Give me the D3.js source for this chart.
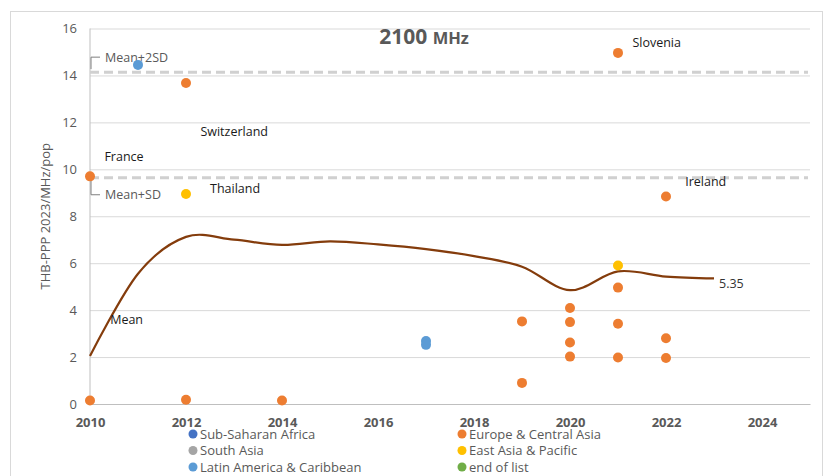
<!DOCTYPE html>
<html>
<head>
<meta charset="utf-8">
<script src="https://cdn.jsdelivr.net/npm/d3@7"></script>
<style>
  body { margin: 0; background: #fff; }
  text { font-family: "Open Sans", "Noto Sans", sans-serif; }
</style>
</head>
<body>
<svg id="chart"></svg>
<script>
// region legend
const regions = ["Sub-Saharan Africa", "Europe & Central Asia", "South Asia", "East Asia & Pacific", "Latin America & Caribbean", "end of list"];
const regionColors = ["#4472C4", "#ED7D31", "#A5A5A5", "#FFC000", "#5B9BD5", "#70AD47"];

// country points: year, value, region
const pointYears  = [2010, 2010, 2011, 2012, 2012, 2012, 2014, 2017, 2017, 2019, 2019, 2020, 2020, 2020, 2020, 2021, 2021, 2021, 2021, 2021, 2022, 2022, 2022];
const pointValues = [9.7, 0.15, 14.45, 13.68, 0.18, 8.95, 0.15, 2.68, 2.52, 3.52, 0.9, 4.09, 3.49, 2.62, 2.02, 14.96, 5.9, 4.96, 3.42, 1.98, 8.84, 2.8, 1.96];
const pointRegion = ["Europe & Central Asia", "Europe & Central Asia", "Latin America & Caribbean", "Europe & Central Asia", "Europe & Central Asia", "East Asia & Pacific", "Europe & Central Asia", "Latin America & Caribbean", "Latin America & Caribbean", "Europe & Central Asia", "Europe & Central Asia", "Europe & Central Asia", "Europe & Central Asia", "Europe & Central Asia", "Europe & Central Asia", "Europe & Central Asia", "East Asia & Pacific", "Europe & Central Asia", "Europe & Central Asia", "Europe & Central Asia", "Europe & Central Asia", "Europe & Central Asia", "Europe & Central Asia"];

// mean line
const meanYears  = [2010, 2011, 2012, 2013, 2014, 2015, 2016, 2017, 2018, 2019, 2020, 2021, 2022, 2023];
const meanValues = [2.05, 5.55, 7.12, 7.0, 6.78, 6.93, 6.8, 6.6, 6.3, 5.85, 4.85, 5.65, 5.43, 5.35];

const meanPlus2SD = 14.14;
const meanPlusSD = 9.64;

// country labels
const labelNames  = ["Slovenia", "Ireland", "Switzerland", "France", "Thailand"];
const labelYears  = [2021.3, 2022.4, 2012.3, 2010.3, 2012.5];
const labelValues = [15.2, 9.3, 11.4, 10.35, 9.0];

const xTicks = [2010, 2012, 2014, 2016, 2018, 2020, 2022, 2024];
const yTicks = [0, 2, 4, 6, 8, 10, 12, 14, 16];

const W = 825, H = 476;
const svg = d3.select("#chart").attr("width", W).attr("height", H);

// chart frame
svg.append("rect")
  .attr("x", 10.5).attr("y", 11.5)
  .attr("width", 812).attr("height", 480)
  .attr("fill", "#fff")
  .attr("stroke", "#d9d9d9");

const x = d3.scaleLinear().domain([2010, 2025]).range([90, 810]);
const y = d3.scaleLinear().domain([0, 16]).range([404, 28.5]);

// grid
svg.append("g")
  .attr("transform", `translate(90,0)`)
  .call(d3.axisLeft(y).tickValues(yTicks).tickSize(-720).tickFormat(""))
  .call(g => g.select(".domain").remove())
  .selectAll("line")
  .attr("stroke", "#d9d9d9");

// left axis line
svg.append("line")
  .attr("x1", x(2010)).attr("x2", x(2010))
  .attr("y1", y(16)).attr("y2", y(0))
  .attr("stroke", "#bfbfbf");

// y tick labels
svg.append("g")
  .attr("transform", `translate(90,0)`)
  .call(d3.axisLeft(y).tickValues(yTicks).tickSize(0).tickPadding(13))
  .call(g => g.select(".domain").remove())
  .selectAll("text")
  .attr("fill", "#595959")
  .style("font-size", "13px");

// x axis
svg.append("g")
  .attr("transform", `translate(0,${y(0)})`)
  .call(d3.axisBottom(x).tickValues(xTicks).tickSize(0).tickPadding(14).tickFormat(d3.format("d")))
  .call(g => g.select(".domain").attr("stroke", "#bfbfbf"))
  .selectAll("text")
  .attr("fill", "#595959")
  .style("font-size", "13px")
  .style("font-weight", "bold");

// y axis title
svg.append("text")
  .attr("transform", `translate(50,${(y(0) + y(16)) / 2}) rotate(-90)`)
  .attr("text-anchor", "middle")
  .attr("fill", "#595959")
  .style("font-size", "13px")
  .text("THB-PPP 2023/MHz/pop");

// title
const title = svg.append("text")
  .attr("x", 424).attr("y", 44)
  .attr("text-anchor", "middle")
  .attr("fill", "#595959")
  .style("font-weight", "bold");
title.append("tspan").style("font-size", "21px").text("2100 ");
title.append("tspan").style("font-size", "16.5px").text("MHz");

// SD reference lines
[meanPlus2SD, meanPlusSD].forEach(v => {
  svg.append("line")
    .attr("x1", x(2010)).attr("x2", 808)
    .attr("y1", y(v)).attr("y2", y(v))
    .attr("stroke", "#d0d0d0")
    .attr("stroke-width", 3)
    .attr("stroke-dasharray", "9 5");
});

// SD callouts
function callout(v, dy, label) {
  const y0 = y(v) + (dy < 0 ? -3 : 3);
  const y1 = y(v) + dy;
  svg.append("path")
    .attr("d", `M${x(2010) + 1},${y0}V${y1}H${x(2010) + 10}`)
    .attr("fill", "none")
    .attr("stroke", "#7f7f7f");
  svg.append("text")
    .attr("x", x(2010) + 15).attr("y", y1 + 4.5)
    .attr("fill", "#595959")
    .style("font-size", "12.5px")
    .text(label);
}
callout(meanPlus2SD, -15, "Mean+2SD");
callout(meanPlusSD, 17, "Mean+SD");

// mean line
const line = d3.line()
  .x((d, i) => x(meanYears[i]))
  .y(d => y(d))
  .curve(d3.curveCatmullRom.alpha(0));

svg.append("path")
  .datum(meanValues)
  .attr("d", line)
  .attr("fill", "none")
  .attr("stroke", "#843C0C")
  .attr("stroke-width", 2.2);

svg.append("text")
  .attr("x", x(meanYears[meanYears.length - 1]) + 5)
  .attr("y", y(meanValues[meanValues.length - 1]) + 10)
  .attr("fill", "#333")
  .style("font-size", "12.5px")
  .text(meanValues[meanValues.length - 1].toFixed(2));

svg.append("text")
  .attr("x", x(2010.42)).attr("y", y(3.4))
  .attr("fill", "#1a1a1a")
  .style("font-size", "12.5px")
  .text("Mean");

// points
const color = d3.scaleOrdinal().domain(regions).range(regionColors);
svg.append("g")
  .selectAll("circle")
  .data(pointValues)
  .join("circle")
  .attr("cx", (d, i) => x(pointYears[i]))
  .attr("cy", d => y(d))
  .attr("r", 5)
  .attr("fill", (d, i) => color(pointRegion[i]));

// country labels
svg.append("g")
  .selectAll("text")
  .data(labelNames)
  .join("text")
  .attr("x", (d, i) => x(labelYears[i]))
  .attr("y", (d, i) => y(labelValues[i]))
  .attr("fill", "#1a1a1a")
  .style("font-size", "12.5px")
  .text(d => d);

// legend
const legend = svg.append("g");
regions.forEach((r, i) => {
  const col = i % 2, row = Math.floor(i / 2);
  const lx = col === 0 ? 193 : 462;
  const ly = 434 + row * 16.5;
  legend.append("circle")
    .attr("cx", lx).attr("cy", ly)
    .attr("r", 4.5)
    .attr("fill", regionColors[i]);
  legend.append("text")
    .attr("x", lx + 7).attr("y", ly + 4.5)
    .attr("fill", "#595959")
    .style("font-size", "13px")
    .text(r);
});
</script>
</body>
</html>
